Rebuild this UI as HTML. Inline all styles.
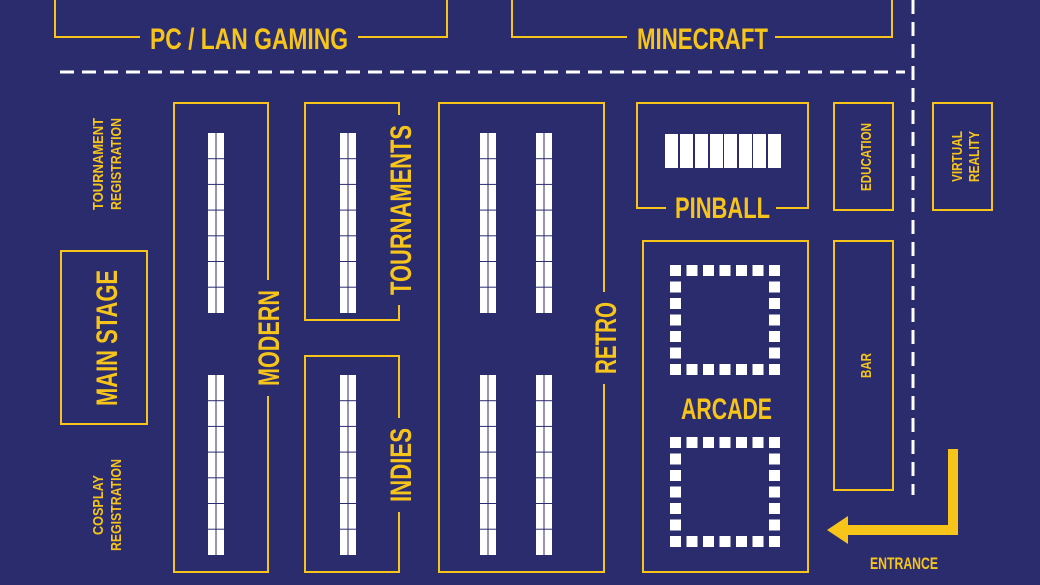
<!DOCTYPE html>
<html><head><meta charset="utf-8"><style>
html,body{margin:0;padding:0;background:#2b2c6e;}
svg{display:block}
text{font-family:"Liberation Sans Narrow","Liberation Sans",sans-serif;font-weight:bold;fill:#f7c51a;}
</style></head><body>
<svg width="1040" height="585" viewBox="0 0 1040 585" xmlns="http://www.w3.org/2000/svg">
<rect width="1040" height="585" fill="#2b2c6e"/>
<defs>
<g id="tbl">
<rect x="0" y="0" width="16" height="180" fill="#fff"/>
<line x1="8" y1="0" x2="8" y2="180" stroke="#2b2c6e" stroke-width="1"/>
<g stroke="#2b2c6e" stroke-width="1">
<line x1="0" y1="25.7" x2="16" y2="25.7"/><line x1="0" y1="51.4" x2="16" y2="51.4"/>
<line x1="0" y1="77.1" x2="16" y2="77.1"/><line x1="0" y1="102.8" x2="16" y2="102.8"/>
<line x1="0" y1="128.5" x2="16" y2="128.5"/><line x1="0" y1="154.2" x2="16" y2="154.2"/>
</g>
</g>
<g id="sq" fill="#fff">
<rect x="0" y="0" width="11" height="11"/><rect x="16.5" y="0" width="11" height="11"/><rect x="33" y="0" width="11" height="11"/><rect x="49.5" y="0" width="11" height="11"/><rect x="66" y="0" width="11" height="11"/><rect x="82.5" y="0" width="11" height="11"/><rect x="99" y="0" width="11" height="11"/>
<rect x="0" y="99" width="11" height="11"/><rect x="16.5" y="99" width="11" height="11"/><rect x="33" y="99" width="11" height="11"/><rect x="49.5" y="99" width="11" height="11"/><rect x="66" y="99" width="11" height="11"/><rect x="82.5" y="99" width="11" height="11"/><rect x="99" y="99" width="11" height="11"/>
<rect x="0" y="16.5" width="11" height="11"/><rect x="0" y="33" width="11" height="11"/><rect x="0" y="49.5" width="11" height="11"/><rect x="0" y="66" width="11" height="11"/><rect x="0" y="82.5" width="11" height="11"/>
<rect x="99" y="16.5" width="11" height="11"/><rect x="99" y="33" width="11" height="11"/><rect x="99" y="49.5" width="11" height="11"/><rect x="99" y="66" width="11" height="11"/><rect x="99" y="82.5" width="11" height="11"/>
</g>
</defs>
<g fill="none" stroke="#f7c51a" stroke-width="2">
<!-- top boxes -->
<polyline points="55,0 55,37 140,37"/><polyline points="358,37 447,37 447,0"/>
<polyline points="512,0 512,37 627,37"/><polyline points="775,37 892,37 892,0"/>
<!-- main stage -->
<rect x="61" y="251" width="86" height="173"/>
<!-- modern -->
<polyline points="268,280 268,103 174,103 174,572 268,572 268,396"/>
<!-- tournaments -->
<polyline points="399,115 399,103 305,103 305,320 399,320 399,305"/>
<!-- indies -->
<polyline points="399,418 399,356 305,356 305,572 399,572 399,512"/>
<!-- retro -->
<polyline points="604,292 604,103 439,103 439,572 604,572 604,384"/>
<!-- pinball -->
<polyline points="666,208 637,208 637,103 808,103 808,208 776,208"/>
<rect x="834" y="103" width="59" height="107"/>
<rect x="933" y="103" width="59" height="107"/>
<rect x="643" y="241" width="165" height="331"/>
<rect x="834" y="241" width="59" height="249"/>
</g>
<g stroke="#fff" stroke-width="3" stroke-dasharray="14 8" fill="none">
<line x1="60" y1="72" x2="905" y2="72"/>
<line x1="913" y1="0" x2="913" y2="495"/>
</g>
<!-- tables -->
<use href="#tbl" x="208" y="133"/><use href="#tbl" x="208" y="375"/>
<use href="#tbl" x="340" y="133"/><use href="#tbl" x="340" y="375"/>
<use href="#tbl" x="480" y="133"/><use href="#tbl" x="480" y="375"/>
<use href="#tbl" x="536" y="133"/><use href="#tbl" x="536" y="375"/>
<!-- pinball tiles -->
<g fill="#fff">
<rect x="665" y="134" width="13" height="34"/><rect x="680" y="134" width="13" height="34"/><rect x="695" y="134" width="13" height="34"/><rect x="710" y="134" width="13" height="34"/><rect x="724" y="134" width="13" height="34"/><rect x="739" y="134" width="13" height="34"/><rect x="753" y="134" width="13" height="34"/><rect x="768" y="134" width="13" height="34"/>
</g>
<use href="#sq" x="670" y="265"/><use href="#sq" x="670" y="437"/>
<!-- entrance arrow -->
<polyline points="953,449 953,530 846,530" fill="none" stroke="#f7c51a" stroke-width="10"/>
<polygon points="827,530 848,516 848,544" fill="#f7c51a"/>
<!-- text -->
<text x="150" y="49" font-size="30" textLength="198" lengthAdjust="spacingAndGlyphs">PC / LAN GAMING</text>
<text x="637" y="49" font-size="30" textLength="131" lengthAdjust="spacingAndGlyphs">MINECRAFT</text>
<text x="675" y="218" font-size="30" textLength="95" lengthAdjust="spacingAndGlyphs">PINBALL</text>
<text x="681" y="419" font-size="30" textLength="91" lengthAdjust="spacingAndGlyphs">ARCADE</text>
<text x="870" y="569" font-size="17" textLength="68" lengthAdjust="spacingAndGlyphs">ENTRANCE</text>
<text transform="translate(279,386) rotate(-90)" font-size="30" textLength="96" lengthAdjust="spacingAndGlyphs">MODERN</text>
<text transform="translate(411,295) rotate(-90)" font-size="30" textLength="170" lengthAdjust="spacingAndGlyphs">TOURNAMENTS</text>
<text transform="translate(411,502) rotate(-90)" font-size="30" textLength="74" lengthAdjust="spacingAndGlyphs">INDIES</text>
<text transform="translate(616,374) rotate(-90)" font-size="30" textLength="72" lengthAdjust="spacingAndGlyphs">RETRO</text>
<text transform="translate(117,406) rotate(-90)" font-size="30" textLength="136" lengthAdjust="spacingAndGlyphs">MAIN STAGE</text>
<text transform="translate(103,210) rotate(-90)" font-size="15" textLength="92" lengthAdjust="spacingAndGlyphs">TOURNAMENT</text>
<text transform="translate(121,210) rotate(-90)" font-size="15" textLength="92" lengthAdjust="spacingAndGlyphs">REGISTRATION</text>
<text transform="translate(103,535) rotate(-90)" font-size="15" textLength="60" lengthAdjust="spacingAndGlyphs">COSPLAY</text>
<text transform="translate(121,551) rotate(-90)" font-size="15" textLength="92" lengthAdjust="spacingAndGlyphs">REGISTRATION</text>
<text transform="translate(871,191) rotate(-90)" font-size="15" textLength="68" lengthAdjust="spacingAndGlyphs">EDUCATION</text>
<text transform="translate(962,182) rotate(-90)" font-size="15" textLength="51" lengthAdjust="spacingAndGlyphs">VIRTUAL</text>
<text transform="translate(979,182) rotate(-90)" font-size="15" textLength="51" lengthAdjust="spacingAndGlyphs">REALITY</text>
<text transform="translate(871,378) rotate(-90)" font-size="15" textLength="25" lengthAdjust="spacingAndGlyphs">BAR</text>
</svg>
</body></html>
